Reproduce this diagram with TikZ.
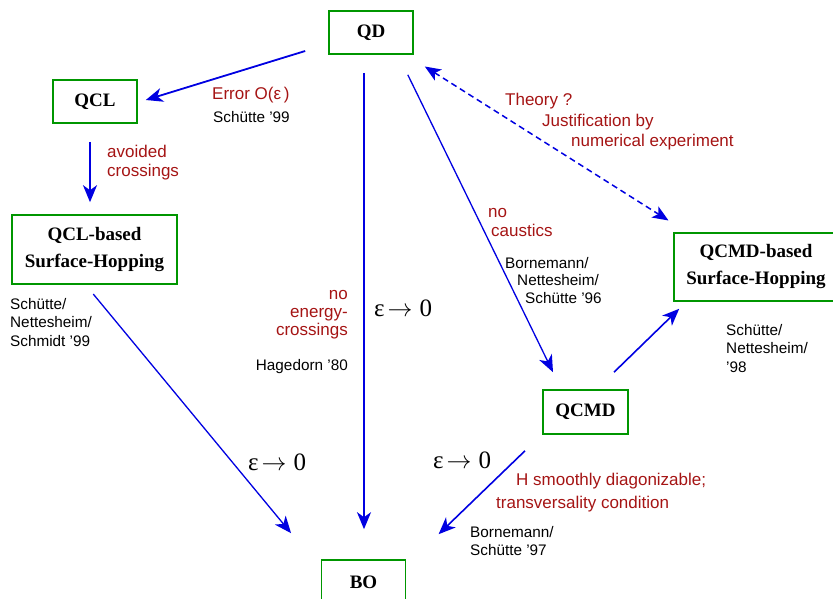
\documentclass[tikz,border=0pt]{standalone}
\usepackage{fontspec}
\setmainfont{Liberation Serif}
\setsansfont{Liberation Sans}
\usetikzlibrary{arrows.meta}

\definecolor{boxgreen}{RGB}{0,150,0}
\definecolor{linkblue}{RGB}{0,0,225}
\definecolor{remarkred}{RGB}{165,20,20}

\begin{document}
\begin{tikzpicture}[x=1pt,y=-1pt]
	\tikzstyle{model} = [rectangle, minimum width=84pt, minimum height=43pt, 
	text centered, draw=boxgreen, line width=1.6pt, 
	font=\fontsize{19}{27}\selectfont\bfseries]
	\tikzstyle{hopping} = [model, minimum width=165pt, minimum height=69pt, 
	align=center]
	\tikzstyle{cond} = [anchor=base west, align=left, inner sep=0pt, 
	text=remarkred, font=\sffamily\fontsize{17}{19.5}\selectfont]
	\tikzstyle{ref} = [anchor=base west, align=left, inner sep=0pt, 
	font=\sffamily\fontsize{15.3}{18.5}\selectfont]
	\tikzstyle{limit} = [anchor=base west, inner sep=0pt, 
	font=\fontsize{25}{25}\selectfont]
	\tikzstyle{arrow} = [line width=1.8pt, draw=linkblue, 
	-{Stealth[length=17pt,width=14pt,inset=5pt]}]
	\tikzstyle{dasharrow} = [line width=1.5pt, draw=linkblue, 
	dash pattern=on 6pt off 4pt, 
	{Stealth[length=16pt,width=13pt,inset=4pt]}-{Stealth[length=16pt,width=13pt,inset=4pt]}]
	\useasboundingbox (0,0) rectangle (833,599);
	% models
	\node (QD) [model] at (371,32.5) {QD};
	\node (QCL) [model] at (95,101.5) {QCL};
	\node (QCLSH) [hopping] at (94.5,249.5) {QCL-based\\Surface-Hopping};
	\node (QCMDSH) [hopping, minimum width=164pt, minimum height=68pt] at (756,267) {QCMD-based\\Surface-Hopping};
	\node (QCMD) [model, minimum width=85pt, minimum height=44pt] at (585.5,412) {QCMD};
	\node (BO) [model, minimum height=44pt] at (363.5,582) {BO};
	% conditions and references (multi-line: base = last line)
	\node (errorQCL) [cond] at (212,100) {Error O(ε\,)};
	\node (refQCL) [ref] at (213,123) {Schütte '99};
	\node (avoided) [cond] at (107,176.7) {avoided\\crossings};
	\node (theory) [cond] at (505,106) {Theory ?};
	\node (justify) [cond] at (542,126.5) {Justification by};
	\node (numexp) [cond] at (571,146.5) {numerical experiment};
	\node (caustics) [cond] at (488,236.7) {no\\\hspace*{3pt}caustics};
	\node (refQCMD) [ref, font=\sffamily\fontsize{15.3}{17.5}\selectfont] at (505,303) {Bornemann/\\\hspace*{12pt}Nettesheim/\\\hspace*{20pt}Schütte '96};
	\node (refQCLSH) [ref] at (10,346) {Schütte/\\Nettesheim/\\Schmidt '99};
	\node (energy) [cond, anchor=base east, align=right, font=\sffamily\fontsize{17}{18}\selectfont] at (348,335) {no\\energy-\\crossings};
	\node (refBO) [ref, anchor=base east] at (348,370) {Hagedorn '80};
	\node (refQCMDSH) [ref] at (726,372.3) {Schütte/\\Nettesheim/\\'98};
	\node (smooth) [cond] at (516,485) {H smoothly diagonizable;};
	\node (transv) [cond] at (496,508) {transversality condition};
	\node (refQCMDBO) [ref, font=\sffamily\fontsize{15.3}{17.7}\selectfont] at (470,555) {Bornemann/\\Schütte '97};
	% limits
	\node (limitQD) [limit] at (374,316.5) {ε\kern3pt$\rightarrow$\kern7pt0};
	\node (limitQCLSH) [limit] at (248,470) {ε\kern3pt$\rightarrow$\kern7pt0};
	\node (limitQCMD) [limit] at (433,468.5) {ε\kern3pt$\rightarrow$\kern7pt0};
	% connections
	\draw [arrow] ([xshift=-23pt,yshift=-18.5pt]QD.west) -- ([xshift=8pt,yshift=1.5pt]QCL.east);
	\draw [arrow] ([xshift=-5pt,yshift=-18pt]QCL.south) -- ([xshift=-4.5pt,yshift=12pt]QCLSH.north);
	\draw [arrow] ([xshift=-7pt,yshift=-18pt]QD.south) -- ([xshift=0.5pt,yshift=30pt]BO.north);
	\draw [arrow, line width=1.3pt] ([xshift=-6pt,yshift=-20pt]QD.south east) -- ([xshift=-32.5pt,yshift=17pt]QCMD.north);
	\draw [dasharrow] ([xshift=11pt,yshift=-11.7pt]QD.south east) -- ([xshift=-4.7pt,yshift=11.7pt]QCMDSH.north west);
	\draw [arrow, line width=1.3pt] ([xshift=-1.2pt,yshift=-9.3pt]QCLSH.south) -- ([xshift=-29.6pt,yshift=26pt]BO.north west);
	\draw [arrow, line width=1.6pt] ([xshift=28.5pt,yshift=17pt]QCMD.north) -- ([xshift=6pt,yshift=-7pt]QCMDSH.south west);
	\draw [arrow, line width=1.6pt] ([xshift=-60.5pt,yshift=-16pt]QCMD.south) -- ([xshift=32.3pt,yshift=25pt]BO.north east);
\end{tikzpicture}
\end{document}
